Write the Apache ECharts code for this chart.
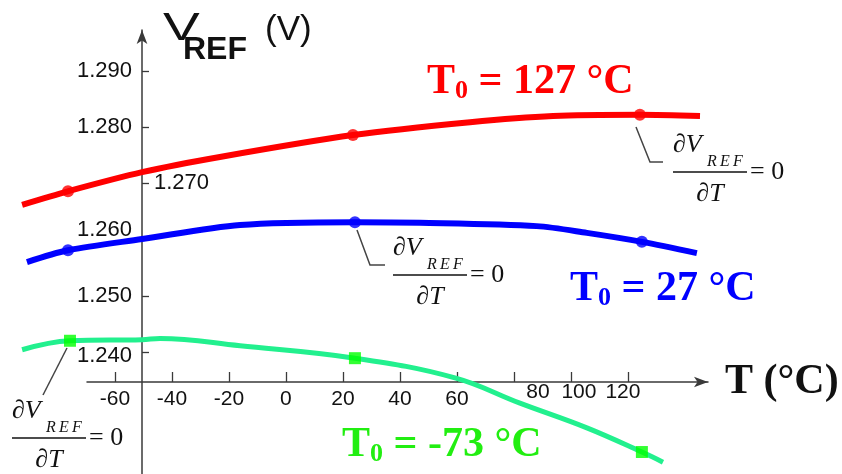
<!DOCTYPE html>
<html><head><meta charset="utf-8">
<script src="https://cdn.jsdelivr.net/npm/echarts@6/dist/echarts.min.js"></script>
<style>html,body{margin:0;padding:0;background:#fff}#c{width:842px;height:474px}</style>
</head><body><div id="c"></div>
<script>
// ---- data (T in °C on the drawn axis, V in volts) ----
var redT   = [-92.6, -76.5, -50.5, -23.2, 23.5, 64.6, 93.7, 124.2, 145.3];
var redV   = [1.2662, 1.2686, 1.2720, 1.2747, 1.2786, 1.2809, 1.2820, 1.2822, 1.2820];
var blueT  = [-90.9, -76.5, -50.5, -16.1, 24.2, 47.0, 88.0, 105.6, 124.9, 144.2];
var blueV  = [1.2560, 1.2581, 1.2601, 1.2626, 1.2631, 1.2630, 1.2624, 1.2612, 1.2596, 1.2576];
var greenT = [-92.6, -75.8, -50.5, -44.2, -16.1, 24.2, 59.3, 82.1, 105.6, 124.9, 132.3];
var greenV = [1.2404, 1.2420, 1.2422, 1.2424, 1.2411, 1.2389, 1.2354, 1.2309, 1.2265, 1.2222, 1.2204];
// marker points
var redMarkT = [-76.5, 23.5, 124.2];   var redMarkV = [1.2686, 1.2786, 1.2822];
var blueMarkT = [-76.5, 24.2, 124.9];  var blueMarkV = [1.2581, 1.2631, 1.2596];
var greenMarkT = [-75.8, 24.2, 124.9]; var greenMarkV = [1.2420, 1.2389, 1.2222];
// tick labels
var xTicks = [-60, -40, -20, 0, 20, 40, 60, 80, 100, 120];
var yTicks = [1.24, 1.25, 1.26, 1.27, 1.28, 1.29];
var yLabelsLeft = [1.24, 1.25, 1.26, 1.28, 1.29];
var yLabelsRight = [1.27];

function zip(a, b) { return a.map(function (v, i) { return [v, b[i]]; }); }

var chart = echarts.init(document.getElementById('c'));
var serif = '"Liberation Serif","Times New Roman",serif';
var sans = '"Liberation Sans",Arial,sans-serif';
var axisCol = '#3a3a3a';
var yMin = 1.21829, yMax = 1.2973;

function frac(x0, y0) {
  return {
    type: 'group', children: [
      { type: 'text', style: { x: x0, y: y0 - 27, text: '∂V', font: 'italic 26px ' + serif, fill: '#111', verticalAlign: 'middle', align: 'left' } },
      { type: 'text', style: { x: x0 + 34, y: y0 - 10, text: 'R\u2009E\u2009F', font: 'italic 16px ' + serif, fill: '#111', verticalAlign: 'middle', align: 'left' } },
      { type: 'line', shape: { x1: x0, y1: y0, x2: x0 + 74, y2: y0 }, style: { stroke: '#111', lineWidth: 1.3 } },
      { type: 'text', style: { x: x0 + 37, y: y0 + 22, text: '∂T', font: 'italic 26px ' + serif, fill: '#111', verticalAlign: 'middle', align: 'center' } },
      { type: 'text', style: { x: x0 + 77, y: y0, text: '= 0', font: '26px ' + serif, fill: '#111', verticalAlign: 'middle', align: 'left' } }
    ]
  };
}
function t0Label(x, y, rest, col) {
  return { type: 'text', style: {
    x: x, y: y, text: '{t|T}{s|0}{t| = ' + rest + '}', verticalAlign: 'middle', align: 'left',
    rich: {
      t: { font: 'bold 42px ' + serif, fill: col, lineHeight: 44 },
      s: { font: 'bold 26px ' + serif, fill: col, lineHeight: 44, verticalAlign: 'bottom' }
    }
  } };
}
function leader(pts) {
  return { type: 'polyline', shape: { points: pts }, style: { stroke: '#444', lineWidth: 1.5, fill: null } };
}
var lab = { fontFamily: sans, fontSize: 21, color: '#111' };
function rs(pad, size) { return Object.assign({}, lab, { padding: pad, fontSize: size || 21 }); }

chart.setOption({
  animation: false,
  grid: [
    { left: 16, right: 134, top: 30, bottom: 0, containLabel: false },
    { left: 87, right: 134, top: 30, bottom: 0, containLabel: false }
  ],
  xAxis: [{
    gridIndex: 0, type: 'value', min: -94.74, max: 148.1, show: false
  }, {
    gridIndex: 1, type: 'value', min: -69.8, max: 148.1, position: 'bottom', offset: -92,
    name: 'T (°C)', nameLocation: 'end', nameGap: 17,
    nameTextStyle: { fontFamily: serif, fontWeight: 'bold', fontSize: 42, color: '#111', padding: [0, 0, 14, 0], verticalAlign: 'middle' },
    axisLine: { onZero: false, lineStyle: { color: axisCol, width: 1.5 }, symbol: ['none', 'arrow'], symbolSize: [8, 14] },
    axisTick: { inside: true, length: 10, lineStyle: { color: axisCol, width: 1.3 }, customValues: xTicks },
    axisLabel: {
      customValues: xTicks, margin: 0, color: '#111',
      formatter: function (v) {
        if (v === 80) return '{a|80}';
        if (v === 100) return '{b|100}';
        if (v === 120) return '{c|120}';
        return '{n|' + v + '}';
      },
      rich: { n: rs([7, 0, 0, 0]), a: rs([0, 0, 0, 48]), b: rs([0, 0, 0, 16]), c: rs([0, 10, 0, 0]) }
    },
    splitLine: { show: false }
  }],
  yAxis: [{
    gridIndex: 0, type: 'value', min: yMin, max: yMax, show: false
  }, {
    gridIndex: 1, type: 'value', min: yMin, max: yMax, position: 'left', offset: -55,
    axisLine: { show: true, onZero: false, lineStyle: { color: axisCol, width: 1.5 }, symbol: ['none', 'arrow'], symbolSize: [8, 14] },
    axisTick: { show: true, inside: true, length: 7, lineStyle: { color: axisCol, width: 1.3 }, customValues: yTicks },
    axisLabel: { customValues: yLabelsLeft, margin: 10, color: '#111',
      formatter: function (v) {
        var s = v.toFixed(3);
        if (s === '1.260') return '{u|' + s + '}';
        if (s === '1.240') return '{d|' + s + '}';
        return '{n|' + s + '}';
      },
      rich: { n: rs([0, 0, 0, 0], 22), u: rs([0, 0, 20, 0], 22), d: rs([8, 0, 0, 0], 22) }
    },
    splitLine: { show: false }
  }, {
    gridIndex: 1, type: 'value', min: yMin, max: yMax, position: 'left', offset: -55,
    axisLine: { show: false, onZero: false }, axisTick: { show: false },
    axisLabel: { customValues: yLabelsRight, inside: true, margin: 12, fontFamily: sans, fontSize: 22, color: '#111',
      formatter: function (v) { return v.toFixed(3); }, padding: [6, 0, 0, 0] },
    splitLine: { show: false }
  }],
  series: [
    { type: 'line', xAxisIndex: 0, yAxisIndex: 0, data: zip(redT, redV), symbol: 'none', smooth: 0.3, lineStyle: { color: '#ff0000', width: 6 }, z: 3 },
    { type: 'line', xAxisIndex: 0, yAxisIndex: 0, data: zip(blueT, blueV), symbol: 'none', smooth: 0.3, lineStyle: { color: '#0000ff', width: 6 }, z: 3 },
    { type: 'line', xAxisIndex: 0, yAxisIndex: 0, data: zip(greenT, greenV), symbol: 'none', smooth: 0.4, lineStyle: { color: '#22f08e', width: 5 }, z: 3 },
    { type: 'scatter', xAxisIndex: 0, yAxisIndex: 0, data: zip(redMarkT, redMarkV), symbol: 'circle', symbolSize: 12, itemStyle: { color: '#ff0000' }, z: 4 },
    { type: 'scatter', xAxisIndex: 0, yAxisIndex: 0, data: zip(blueMarkT, blueMarkV), symbol: 'circle', symbolSize: 12, itemStyle: { color: '#0000ff' }, z: 4 },
    { type: 'scatter', xAxisIndex: 0, yAxisIndex: 0, data: zip(greenMarkT, greenMarkV), symbol: 'rect', symbolSize: 12, itemStyle: { color: '#00ff00' }, z: 4 }
  ],
  graphic: [
    { type: 'text', x: 163, y: 30, scaleX: 1.45, style: { x: 0, y: 0, text: 'V', font: '38px ' + sans, fill: '#111', verticalAlign: 'middle', align: 'left' } },
    { type: 'text', style: { x: 183, y: 50, text: 'REF', font: 'bold 32px ' + sans, fill: '#111', verticalAlign: 'middle', align: 'left' } },
    { type: 'text', style: { x: 265, y: 30, text: '(V)', font: '35px ' + sans, fill: '#111', verticalAlign: 'middle', align: 'left' } },
    t0Label(427, 82, '127 °C', '#ff0000'),
    t0Label(570, 289, '27 °C', '#0000ff'),
    t0Label(342, 445, '-73 °C', '#22ee11'),
    leader([[636, 127], [650, 162], [663, 162]]),
    leader([[357, 230], [370, 265], [385, 265]]),
    leader([[67, 348], [43, 395]]),
    frac(673, 172),
    frac(393, 275),
    frac(12, 438)
  ]
});
</script></body></html>
